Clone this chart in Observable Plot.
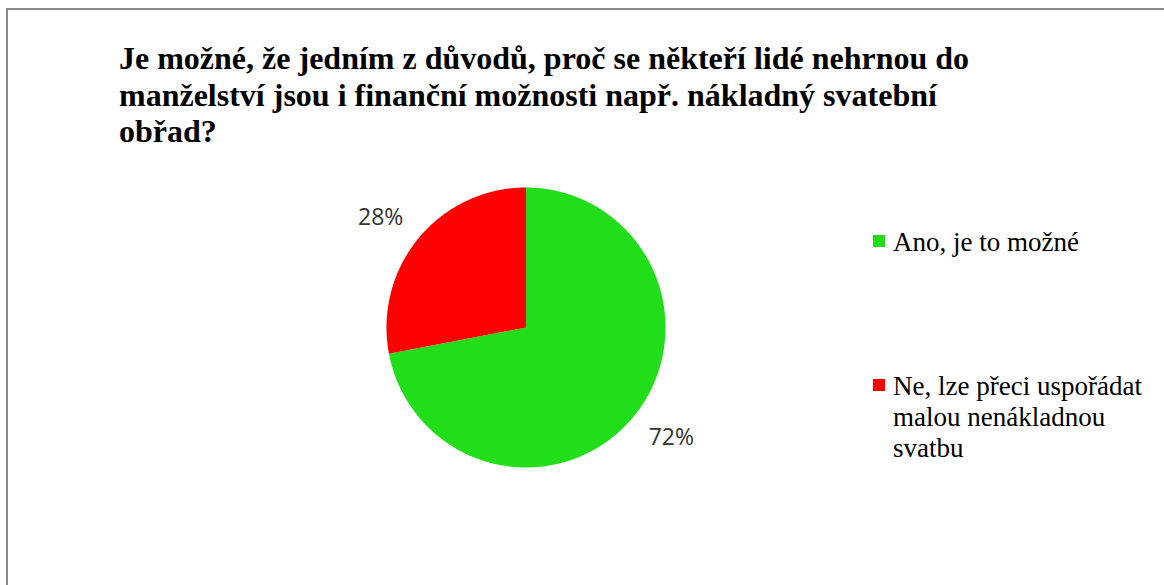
<!DOCTYPE html>
<html>
<head>
<meta charset="utf-8">
<script src="https://cdn.jsdelivr.net/npm/d3@7"></script>
<script src="https://cdn.jsdelivr.net/npm/@observablehq/plot@0.6"></script>
<style>
  html, body { margin: 0; padding: 0; background: #fff; overflow: hidden; width: 1164px; height: 585px; }
  #frame { position: absolute; left: 6px; top: 8px; width: 1200px; height: 640px; border: 2px solid #8a8a8a; box-sizing: border-box; }
  #chart { position: absolute; left: 0; top: 0; }
  #title { position: absolute; left: 119px; top: 40px; font-family: "Liberation Serif", "Times New Roman", serif; font-weight: bold; font-size: 32px; line-height: 36.7px; color: #000; white-space: nowrap; }
  .leg { position: absolute; left: 873px; font-family: "Liberation Serif", "Times New Roman", serif; font-size: 27px; color: #000; white-space: nowrap; }
  .leg .sw { position: absolute; left: 0; width: 12px; height: 12px; }
  .leg .tx { position: absolute; left: 20px; top: 0; }
</style>
</head>
<body>
<div id="frame"></div>
<div id="chart"></div>
<div id="title"></div>
<div id="legend"></div>
<script>
const titleLines = [
  "Je možné, že jedním z důvodů, proč se někteří lidé nehrnou do",
  "manželství jsou i finanční možnosti např. nákladný svatební",
  "obřad?"
];
const categories = ["Ano, je to možné", "Ne, lze přeci uspořádat malou nenákladnou svatbu"];
const legendLines = [["Ano, je to možné"], ["Ne, lze přeci uspořádat", "malou nenákladnou", "svatbu"]];
const values = [72, 28];
const labels = ["72%", "28%"];
const colors = ["#22dd1a", "#ff0000"];

// title
document.getElementById("title").innerHTML = titleLines.join("<br>");

// pie geometry in data space (unit circle), angles clockwise from 12 o'clock
const pie = d3.pie().sort(null).value(d => d)(values);
const polys = [];
pie.forEach((p, i) => {
  polys.push({cat: categories[i], x: 0, y: 0});
  const n = Math.max(2, Math.ceil((p.endAngle - p.startAngle) / 0.01));
  for (let j = 0; j <= n; j++) {
    const a = p.startAngle + (p.endAngle - p.startAngle) * j / n;
    polys.push({cat: categories[i], x: Math.sin(a), y: Math.cos(a)});
  }
});
const labelData = pie.map((p, i) => {
  const a = (p.startAngle + p.endAngle) / 2 - 0.045;
  return {label: labels[i], x: 1.305 * Math.sin(a), y: 1.305 * Math.cos(a)};
});

const plot = Plot.plot({
  width: 1164,
  height: 585,
  marginLeft: 386,
  marginRight: 499,
  marginTop: 187,
  marginBottom: 118,
  x: {domain: [-1, 1], axis: null},
  y: {domain: [-1, 1], axis: null},
  color: {domain: categories, range: colors},
  style: {background: "transparent", overflow: "visible"},
  marks: [
    Plot.line(polys, {x: "x", y: "y", z: "cat", fill: "cat", stroke: "none", curve: "linear-closed"}),
    Plot.text(labelData, {x: "x", y: "y", text: "label", fontFamily: "Open Sans", fontSize: 23, fill: "#333"})
  ]
});
document.getElementById("chart").appendChild(plot);

// legend
const legTops = [226.5, 371];
const lineH = [30, 31];
const swTop = [8.5, 8];
const legend = document.getElementById("legend");
legendLines.forEach((lines, i) => {
  const d = document.createElement("div");
  d.className = "leg";
  d.style.top = legTops[i] + "px";
  d.style.lineHeight = lineH[i] + "px";
  d.innerHTML = `<span class="sw" style="background:${colors[i]};top:${swTop[i]}px"></span><span class="tx">${lines.join("<br>")}</span>`;
  legend.appendChild(d);
});
</script>
</body>
</html>
